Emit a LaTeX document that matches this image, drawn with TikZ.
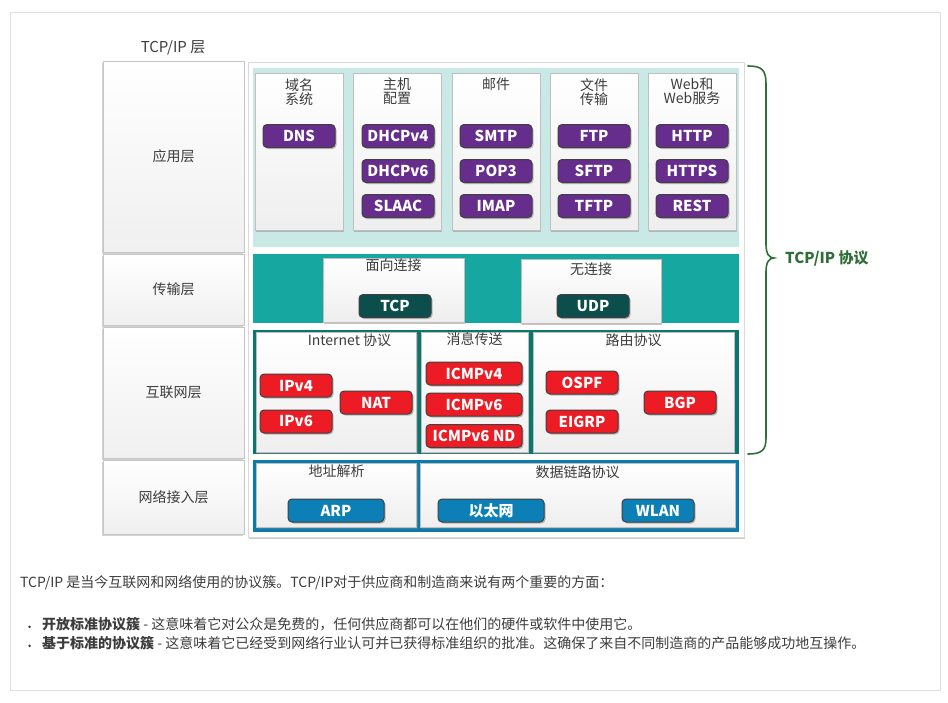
\documentclass[tikz,border=0pt]{standalone}
\usepackage{fontspec}
\setmainfont{Noto Sans CJK SC}
\usetikzlibrary{shadows,decorations.pathreplacing,positioning}

\definecolor{appPurple}{RGB}{102,45,140}
\definecolor{appCyan}{RGB}{201,233,231}
\definecolor{transTeal}{RGB}{22,168,160}
\definecolor{transDark}{RGB}{11,78,75}
\definecolor{inetTeal}{RGB}{10,118,110}
\definecolor{inetRed}{RGB}{237,28,36}
\definecolor{linkBlue}{RGB}{11,123,174}
\definecolor{linkBtn}{RGB}{12,128,182}
\definecolor{braceGreen}{RGB}{47,110,55}
\definecolor{textGray}{RGB}{60,60,60}

\newcommand\btnFont{\fontsize{15}{17}\selectfont\bfseries}
\newcommand\titleFont{\fontsize{14}{14}\selectfont}
\newcommand\bodyFont{\fontsize{14}{16}\selectfont}
\newcommand\listDot{\makebox[14pt][l]{\raisebox{1pt}{\tikz\fill[textGray] (0,0) circle (1.4pt);}}}

\begin{document}
\begin{tikzpicture}
[x=1pt,y=-1pt,
  layerDecorate/.style={draw=gray!45,line width=0.8pt,top color=white,bottom color=gray!12,
    minimum width=141,inner sep=0pt,text=textGray,font=\titleFont,
    drop shadow={shadow xshift=-1pt,shadow yshift=-1.5pt,opacity=.35}},
  frameDecorate/.style={draw=gray!30,fill=white,inner sep=0pt,
    drop shadow={shadow xshift=1pt,shadow yshift=-1.5pt,opacity=.4}},
  bandDecorate/.style={inner sep=0pt,minimum width=486},
  cardDecorate/.style={draw=gray!50,top color=white,bottom color=gray!13,inner sep=0pt,
    drop shadow={shadow xshift=1.2pt,shadow yshift=-1.5pt,opacity=.45}},
  titleDecorate/.style={anchor=north,align=center,text=textGray,font=\titleFont,inner sep=0pt},
  btnDecorate/.style={rounded corners=4pt,draw=black!75,line width=1pt,text=white,font=\btnFont,
    minimum height=23,minimum width=72,inner sep=0pt,
    drop shadow={shadow xshift=1.5pt,shadow yshift=-1.5pt,opacity=.5}},
  braceDecorate/.style={braceGreen,line width=1.6pt,line cap=round}]
\useasboundingbox (0,0) rectangle (948,702);
%% outer frame and heading
\draw[gray!25] (10,12) rectangle (940,690);
\node[text=textGray,font=\fontsize{15}{15}\selectfont] (layerHead) at (173,48) {TCP/IP 层};

%% left column: the four layers
\foreach \nodename/\y/\h/\txt in {
  appLayer/156.5/191/应用层, transLayer/289.5/71/传输层,
  inetLayer/392.5/131/互联网层, linkLayer/497/74/网络接入层}
{
  \node (\nodename) at (173.5,\y) [layerDecorate,minimum height=\h] {\txt};
}

%% right frame and coloured bands
\node (frame) at (496,299.5) [frameDecorate,minimum width=496,minimum height=475] {};
\node (appBand) at (496,157.5) [bandDecorate,fill=appCyan,minimum height=179] {};
\node (transBand) at (496,288.5) [bandDecorate,fill=transTeal,minimum height=69] {};
\node (inetBand) at (496,392) [bandDecorate,fill=inetTeal,minimum height=124] {};
\node (linkBand) at (496,496) [bandDecorate,fill=linkBlue,minimum height=72] {};

%% cards with their titles
\foreach \nodename/\x/\y/\w/\h/\ty/\txt in {
  dnsCard/299/151.5/88/157/78/{域名\\系统}, hostCard/397/151.5/88/157/78/{主机\\配置},
  mailCard/496/151.5/88/157/78/邮件, fileCard/594/151.5/88/157/78/{文件\\传输},
  webCard/692/151.5/88/157/78/{Web和\\Web服务},
  tcpCard/393.5/290/141/64/259/面向连接, udpCard/591/291/140/64/263/无连接,
  ipCard/336.5/392/160/120/334/{\hspace*{26pt}Internet 协议}, msgCard/474.5/392/107/120/332/消息传送,
  routeCard/633.5/392/201/120/334/路由协议,
  arpCard/336.5/495/160/64/465/地址解析, dataCard/577.5/495/315/64/465/数据链路协议}
{
  \node (\nodename) at (\x,\y) [cardDecorate,minimum width=\w,minimum height=\h] {};
  \node (\nodename Title) at (\x,\ty) [titleDecorate] {\txt};
}

%% protocol buttons
\foreach \nodename/\x/\y/\w/\col/\txt in {
  dns/299/136/72/appPurple/DNS, dhcpFour/398/136/72/appPurple/DHCPv4,
  dhcpSix/398/171/72/appPurple/DHCPv6, slaac/398/206/72/appPurple/SLAAC,
  smtp/496/136/72/appPurple/SMTP, popThree/496/171/72/appPurple/POP3,
  imap/496/206/72/appPurple/IMAP, ftp/594/136/72/appPurple/FTP,
  sftp/594/171/72/appPurple/SFTP, tftp/594/206/72/appPurple/TFTP,
  http/692/136/72/appPurple/HTTP, https/692/171/72/appPurple/HTTPS,
  rest/692/206/72/appPurple/REST,
  tcp/395/306/72/transDark/TCP, udp/593/306/72/transDark/UDP,
  ipFour/296/385.5/72/inetRed/IPv4, ipSix/296/421.5/72/inetRed/IPv6,
  nat/376/402.5/72/inetRed/NAT, icmpFour/474/373.5/96/inetRed/ICMPv4,
  icmpSix/474/404.5/96/inetRed/ICMPv6, icmpNd/474/436/96/inetRed/ICMPv6 ND,
  ospf/582/382.5/72/inetRed/OSPF, eigrp/582/421.5/72/inetRed/EIGRP,
  bgp/680/402.5/72/inetRed/BGP,
  arp/336/510.5/96/linkBtn/ARP, ether/491/510.5/106/linkBtn/以太网,
  wlan/658/510.5/72/linkBtn/WLAN}
{
  \node (\nodename) at (\x,\y) [btnDecorate,fill=\col,minimum width=\w] {\txt};
}

%% brace round the protocols
\coordinate (braceTop) at (748,66);
\coordinate (braceTip) at (774,258);
\coordinate (braceBot) at (748,454);
\draw[braceDecorate] (braceTop) .. controls (762,66) and (766,70) .. (766,84)
  -- (766,244) .. controls (766,254) and (769,258) .. (braceTip)
  .. controls (769,258) and (766,262) .. (766,272)
  -- (766,438) .. controls (766,450) and (762,454) .. (braceBot);
\node[right=11pt of braceTip,inner sep=0pt,text=braceGreen,font=\btnFont] (braceLabel) {TCP/IP 协议};

%% text below the picture
\node[anchor=west,inner sep=0pt,text=textGray,font=\bodyFont] (intro) at (20,583)
  {TCP/IP 是当今互联网和网络使用的协议簇。TCP/IP对于供应商和制造商来说有两个重要的方面：};
\node[anchor=west,inner sep=0pt,text=textGray,font=\bodyFont] (pointOpen) at (28,624)
  {\listDot\textbf{开放标准协议簇} - 这意味着它对公众是免费的，任何供应商都可以在他们的硬件或软件中使用它。};
\node[anchor=west,inner sep=0pt,text=textGray,font=\bodyFont] (pointStd) at (28,643)
  {\listDot\textbf{基于标准的协议簇} - 这意味着它已经受到网络行业认可并已获得标准组织的批准。这确保了来自不同制造商的产品能够成功地互操作。};
\end{tikzpicture}
\end{document}
